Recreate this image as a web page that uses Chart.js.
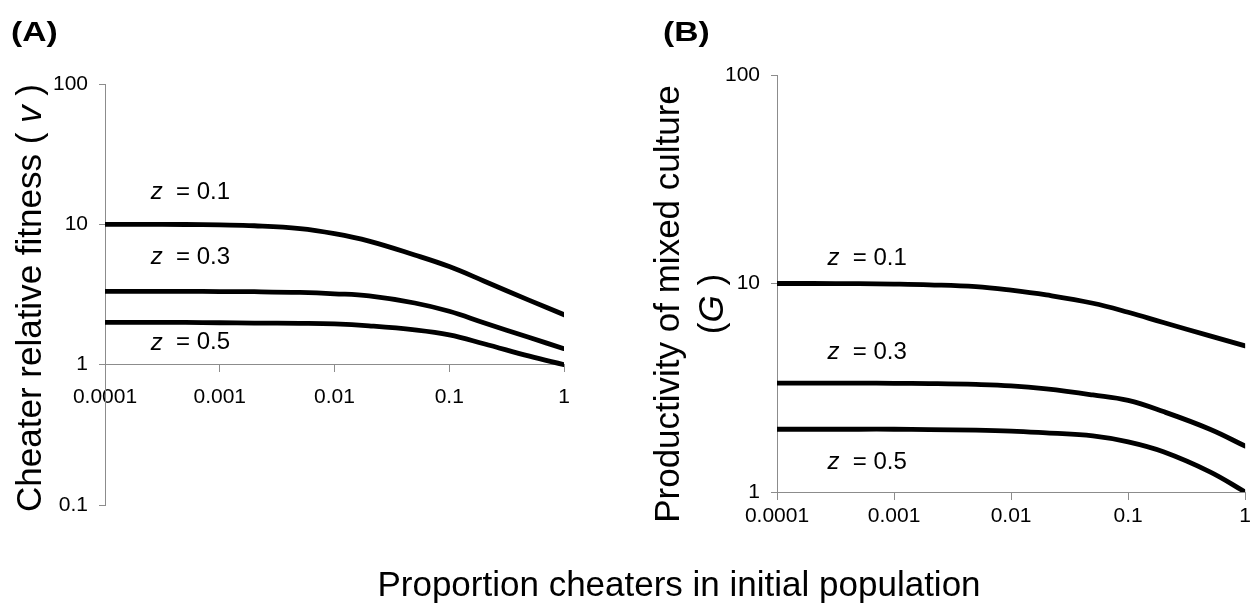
<!DOCTYPE html>
<html>
<head>
<meta charset="utf-8">
<title>Cheater fitness and mixed culture productivity</title>
<script src="https://cdn.jsdelivr.net/npm/chart.js@4.4.1/dist/chart.umd.min.js"></script>
<style>
    html, body { margin: 0; padding: 0; background: #fff; }
    body {
        width: 1256px; height: 603px; position: relative; overflow: hidden;
        font-family: 'Liberation Sans', Arial, Helvetica, sans-serif; color: #000;
    }
    canvas { position: absolute; top: 0; }
    #chartA { left: 0; }
    #chartB { left: 620px; }
    .panel-tag {
        position: absolute; font-size: 28px; font-weight: bold; line-height: 1;
        transform: scaleX(1.2); transform-origin: left top;
    }
    .ytitle {
        position: absolute; font-size: 35px; line-height: 44px; white-space: nowrap;
        text-align: center; transform: translate(-50%, -50%) rotate(-90deg);
    }
    #xtitle {
        position: absolute; left: 679px; top: 566px; font-size: 35px; line-height: 1;
        white-space: nowrap; transform: translateX(-50%);
    }
</style>
</head>
<body>

<canvas id="chartA" width="620" height="603"></canvas>
<canvas id="chartB" width="636" height="603"></canvas>

<div class="panel-tag" style="left:11px; top:18px;">(A)</div>
<div class="panel-tag" style="left:663px; top:18px;">(B)</div>
<div class="ytitle" style="left:29px; top:298px;">Cheater relative fitness ( <i>v</i> )</div>
<div class="ytitle" style="left:689px; top:304px;">Productivity of mixed culture<br>(<i>G</i> )</div>
<div id="xtitle">Proportion cheaters in initial population</div>

<script>
// ---- data ----
const proportions = [0.0001, 0.0002, 0.0005, 0.001, 0.002, 0.005, 0.01, 0.02, 0.05, 0.1, 0.2, 0.5, 1];

// (A) cheater relative fitness v
const fitnessZ01 = [10, 10, 9.97, 9.9, 9.77, 9.33, 8.59, 7.6, 6.05, 5.0, 3.95, 2.87, 2.27];
const fitnessZ03 = [3.33, 3.33, 3.33, 3.32, 3.31, 3.27, 3.2, 3.09, 2.75, 2.4, 1.99, 1.56, 1.30];
const fitnessZ05 = [2.0, 2.0, 2.0, 1.99, 1.98, 1.97, 1.95, 1.89, 1.77, 1.63, 1.41, 1.15, 1.0];

// (B) productivity of mixed culture G
const productivityZ01 = [10, 10, 9.98, 9.94, 9.86, 9.66, 9.29, 8.81, 8.04, 7.28, 6.5, 5.61, 5.02];
const productivityZ03 = [3.33, 3.33, 3.33, 3.32, 3.31, 3.28, 3.23, 3.12, 2.92, 2.75, 2.43, 2.0, 1.66];
const productivityZ05 = [2.0, 2.0, 2.0, 2.0, 1.99, 1.98, 1.96, 1.92, 1.86, 1.74, 1.56, 1.25, 1.0];

const zValues = ['0.1', '0.3', '0.5'];

const xTickValues = [0.0001, 0.001, 0.01, 0.1, 1];
const xTickLabels = ['0.0001', '0.001', '0.01', '0.1', '1'];
const fitnessTickValues = [0.1, 1, 10, 100];
const fitnessTickLabels = ['0.1', '1', '10', '100'];
const productivityTickValues = [1, 10, 100];
const productivityTickLabels = ['1', '10', '100'];

// ---- look ----
const FONT = "'Liberation Sans', Arial, Helvetica, sans-serif";
const AXIS_GREY = '#8c8c8c';
Chart.defaults.font.family = FONT;
Chart.defaults.color = '#000';

// "z = 0.1" style labels next to the curves (anchor in data units)
const zLabelPlugin = {
    id: 'zLabels',
    afterDatasetsDraw(chart, args, opts) {
        const { ctx } = chart;
        const xs = chart.scales.x, ys = chart.scales.y;
        ctx.save();
        ctx.fillStyle = '#000';
        ctx.textBaseline = 'middle';
        ctx.textAlign = 'left';
        opts.anchors.forEach((a, i) => {
            let px = xs.getPixelForValue(a[0]);
            const py = ys.getPixelForValue(a[1]);
            ctx.font = 'italic 24px ' + FONT;
            ctx.fillText('z', px, py);
            px += ctx.measureText('z').width;
            ctx.font = '24px ' + FONT;
            ctx.fillText('  = ' + zValues[i], px, py);
        });
        ctx.restore();
    }
};

function fixedTicks(values) {
    return function (scale) {
        scale.ticks = values.map(v => ({ value: v }));
    };
}

function buildChart(canvasId, seriesList, yCfg, box) {
    const datasets = seriesList.map(vals => ({
        data: proportions.map((p, i) => ({ x: p, y: vals[i] })),
        borderColor: '#000',
        borderWidth: 4.8,
        borderCapStyle: 'round',
        pointRadius: 0,
        fill: false,
        tension: 0.4
    }));

    return new Chart(document.getElementById(canvasId), {
        type: 'line',
        data: { datasets },
        plugins: [zLabelPlugin],
        options: {
            responsive: false,
            animation: false,
            layout: { padding: { left: 0, top: box.top, right: box.right, bottom: box.bottom } },
            plugins: {
                legend: { display: false },
                tooltip: { enabled: false },
                zLabels: { anchors: box.anchors }
            },
            scales: {
                x: {
                    type: 'logarithmic',
                    min: 0.0001,
                    max: 1,
                    position: { y: 1 },
                    afterBuildTicks: fixedTicks(xTickValues),
                    ticks: {
                        callback: (v, i) => xTickLabels[i],
                        font: { size: 21 },
                        color: '#000',
                        padding: box.xPad,
                        autoSkip: false,
                        maxRotation: 0
                    },
                    grid: { drawOnChartArea: false, drawTicks: true, tickLength: 7, tickColor: AXIS_GREY },
                    border: { display: true, color: AXIS_GREY, width: 1 }
                },
                y: {
                    type: 'logarithmic',
                    position: 'left',
                    min: yCfg.min,
                    max: yCfg.max,
                    afterBuildTicks: fixedTicks(yCfg.ticks),
                    afterFit: scale => { scale.width = box.left; },
                    ticks: {
                        callback: (v, i) => yCfg.labels[i],
                        font: { size: 21 },
                        color: '#000',
                        padding: 11,
                        autoSkip: false
                    },
                    grid: { drawOnChartArea: false, drawTicks: true, tickLength: 6, tickColor: AXIS_GREY },
                    border: { display: true, color: AXIS_GREY, width: 1 }
                }
            }
        }
    });
}

buildChart('chartA',
    [fitnessZ01, fitnessZ03, fitnessZ05],
    { min: 0.1, max: 100, ticks: fitnessTickValues, labels: fitnessTickLabels },
    { left: 105, top: 84, right: 56, bottom: 98, xPad: 13,
      anchors: [[0.00025, 16.8], [0.00025, 5.79], [0.00025, 1.43]] });

buildChart('chartB',
    [productivityZ01, productivityZ03, productivityZ05],
    { min: 1, max: 100, ticks: productivityTickValues, labels: productivityTickLabels },
    { left: 157, top: 75, right: 7, bottom: 111, xPad: 5,
      anchors: [[0.00027, 13.2], [0.00027, 4.68], [0.00027, 1.39]] });
</script>
</body>
</html>
